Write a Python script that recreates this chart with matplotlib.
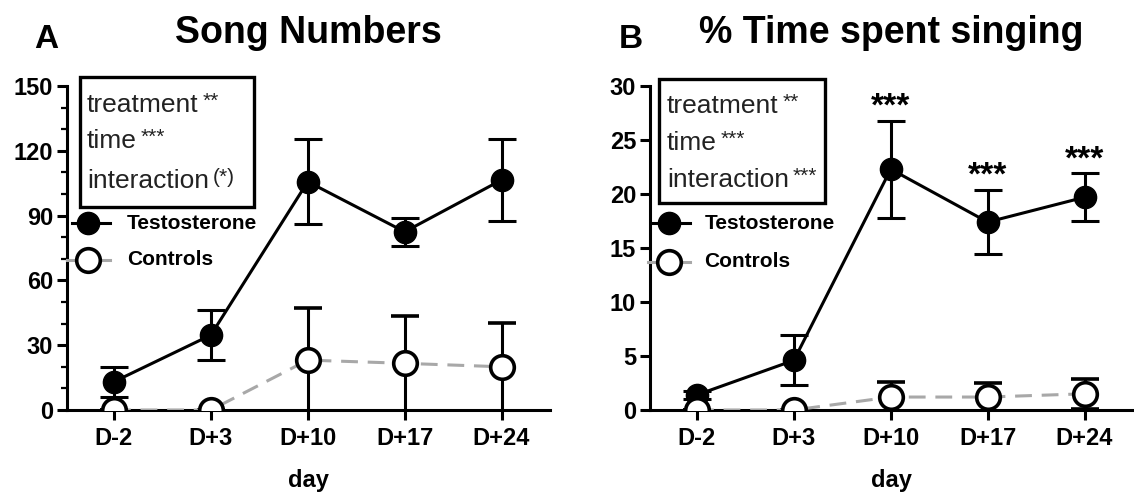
import matplotlib
matplotlib.use("Agg")
import matplotlib.pyplot as plt
from matplotlib.patches import Rectangle

plt.rcParams["font.family"] = ["Liberation Sans", "DejaVu Sans"]

# data
days = ["D-2", "D+3", "D+10", "D+17", "D+24"]

song_testo = [13.1, 34.7, 105.7, 82.5, 106.5]
song_testo_err = [7.0, 11.7, 19.7, 6.5, 18.8]
song_ctrl = [0.0, 0.0, 23.1, 21.6, 20.0]
song_ctrl_err = [0.0, 0.0, 24.0, 22.0, 20.4]

time_testo = [1.4, 4.6, 22.3, 17.4, 19.7]
time_testo_err = [0.4, 2.3, 4.5, 3.0, 2.2]
time_ctrl = [0.0, 0.0, 1.2, 1.2, 1.5]
time_ctrl_err = [0.0, 0.0, 1.4, 1.3, 1.4]

stats_a = [("treatment", "**"), ("time", "***"), ("interaction", "(*)")]
stats_b = [("treatment", "**"), ("time", "***"), ("interaction", "***")]
post_hoc_b = ["", "", "***", "***", "***"]

W, H = 1134, 500
fig = plt.figure(figsize=(W / 100, H / 100), dpi=100)

LW = 2.2
GREY = "#a8a8a8"


def px_axes(left, right, bottom=410, top=86):
    return fig.add_axes([left / W, 1 - bottom / H, (right - left) / W, (bottom - top) / H])


def draw_panel(ax, testo, testo_err, ctrl, ctrl_err, ymax, yticks, minor):
    x = list(range(len(days)))
    ax.errorbar(x, testo, yerr=testo_err, color="black", lw=LW, elinewidth=LW,
                capsize=10, capthick=LW, marker="o", ms=16, mfc="black",
                mec="black", zorder=3)
    eb = ax.errorbar(x, ctrl, yerr=ctrl_err, color=GREY, lw=LW, ecolor="black",
                     elinewidth=LW, capsize=10, capthick=LW, marker="o", ms=17,
                     mfc="white", mec="black", mew=2.6, zorder=4)
    eb[0].set_dashes((5.5, 3.2))
    ax.set_xlim(-0.485, 4.5)
    ax.set_ylim(0, ymax)
    ax.set_yticks(yticks)
    if minor:
        ax.set_yticks(minor, minor=True)
    ax.set_xticks(x)
    ax.set_xticklabels(days)
    for s in ["top", "right"]:
        ax.spines[s].set_visible(False)
    for s in ["left", "bottom"]:
        ax.spines[s].set_linewidth(LW)
    ax.tick_params(axis="both", which="major", length=7, width=LW, labelsize=17, pad=3)
    ax.tick_params(axis="x", pad=5)
    ax.tick_params(axis="y", which="minor", length=4, width=1.6)
    for lab in ax.get_xticklabels() + ax.get_yticklabels():
        lab.set_fontweight("bold")
    ax.set_xlabel("day", fontsize=17, fontweight="bold", labelpad=14)


def draw_box(ax, stats, box, text_x, baselines):
    l, r, b, t = box
    ax.add_patch(Rectangle((l, b), r - l, t - b, transform=ax.transAxes, fill=False,
                           lw=2.4, ec="black", clip_on=False, zorder=5))
    for (name, stars), y in zip(stats, baselines):
        base = ax.text(text_x, y, name, transform=ax.transAxes, fontsize=19,
                       va="baseline", color="#222222")
        ax.annotate(stars, xy=(1, 1), xycoords=base, xytext=(3, 1),
                    textcoords="offset points", fontsize=15, va="top",
                    color="#222222")


def draw_legend(ax, x0, x1, xm, xt, y_t, y_c):
    ax.plot([x0, x1], [y_t, y_t], color="black", lw=LW, transform=ax.transAxes,
            clip_on=False, zorder=5)
    ax.plot([xm], [y_t], "o", ms=16, color="black", transform=ax.transAxes,
            clip_on=False, zorder=6)
    ax.plot([x0 - 0.01, x1], [y_c, y_c], color=GREY, lw=LW, transform=ax.transAxes,
            clip_on=False, zorder=5)
    ax.plot([xm], [y_c], "o", ms=17, mfc="white", mec="black", mew=2.6,
            transform=ax.transAxes, clip_on=False, zorder=6)
    ax.text(xt, y_t, "Testosterone", transform=ax.transAxes, fontsize=15,
            fontweight="bold", va="center")
    ax.text(xt, y_c, "Controls", transform=ax.transAxes, fontsize=15,
            fontweight="bold", va="center")


# Panel A
ax_a = px_axes(67, 550)
draw_panel(ax_a, song_testo, song_testo_err, song_ctrl, song_ctrl_err, 150,
           [0, 30, 60, 90, 120, 150], [v for v in range(0, 151, 10) if v % 30])
draw_box(ax_a, stats_a, (0.027, 0.387, 0.627, 1.028), 0.041, [0.92, 0.809, 0.685])
draw_legend(ax_a, 0.01, 0.089, 0.0435, 0.124, 0.577, 0.463)

# Panel B
ax_b = px_axes(650, 1133)
draw_panel(ax_b, time_testo, time_testo_err, time_ctrl, time_ctrl_err, 30,
           [0, 5, 10, 15, 20, 25, 30], None)
draw_box(ax_b, stats_b, (0.019, 0.362, 0.639, 1.022), 0.035, [0.917, 0.802, 0.688])
draw_legend(ax_b, 0.006, 0.082, 0.04, 0.113, 0.577, 0.457)

for i, mark in enumerate(post_hoc_b):
    if mark:
        ax_b.text(i, time_testo[i] + time_testo_err[i] + 0.5, mark, ha="center",
                  va="baseline", fontsize=24, fontweight="bold")

# titles
fig.text(308 / W, 1 - 43 / H, "Song Numbers", ha="center", va="baseline",
         fontsize=27, fontweight="bold")
fig.text(46 / W, 1 - 48 / H, "A", ha="center", va="baseline", fontsize=24,
         fontweight="bold")
fig.text(891 / W, 1 - 43 / H, "% Time spent singing", ha="center", va="baseline",
         fontsize=27, fontweight="bold")
fig.text(631 / W, 1 - 48 / H, "B", ha="center", va="baseline", fontsize=24,
         fontweight="bold")

fig.savefig("out.png", dpi=100)
